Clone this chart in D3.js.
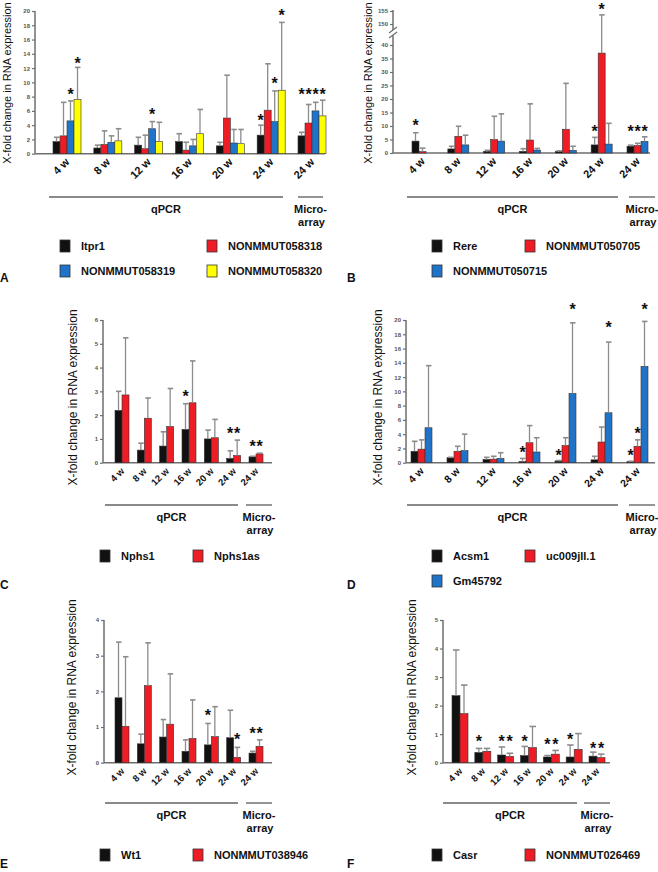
<!DOCTYPE html>
<html><head><meta charset="utf-8">
<script src="https://cdn.jsdelivr.net/npm/d3@7"></script>
<style>
body{margin:0;background:#fff}
svg{display:block}
text{font-family:"Liberation Sans",Arial,sans-serif}
</style>
</head><body><svg id="c" width="658" height="872"></svg>
<script>
// ---------- shared categories ----------
const groups = ["4 w","8 w","12 w","16 w","20 w","24 w","24 w"];
const colBlack = "#111111", colRed = "#ee1c24", colBlue = "#1f74c9", colYellow = "#ffff00";

// ---------- Panel A ----------
const namesA = ["Itpr1","NONMMUT058318","NONMMUT058319","NONMMUT058320"];
const itpr1      = [1.7,0.8,1.2,1.7,1.1,2.6,2.5];
const itpr1Err   = [2.3,1.2,2.3,2.8,1.6,4.0,3.0];
const n058318    = [2.5,1.3,0.7,0.5,5.0,6.1,4.3];
const n058318Err = [7.2,3.2,2.6,1.6,11.0,12.6,6.9];
const n058319    = [4.6,1.6,3.5,1.1,1.5,4.5,6.0];
const n058319Err = [7.4,2.5,4.5,2.0,3.4,8.8,7.2];
const n058320    = [7.6,1.8,1.7,2.8,1.4,8.9,5.3];
const n058320Err = [12.1,3.5,4.4,6.2,3.4,18.4,7.5];
const starsA = [[0,2,8.8],[0,3,13.2],[2,2,6.0],[5,0,5.2],[5,2,10.3],[5,3,19.8],[6,0,8.8],[6,1,8.8],[6,2,8.8],[6,3,8.8]];
const ticksA = [0,2,4,6,8,10,12,14,16,18,20];

// ---------- Panel B ----------
const namesB = ["Rere","NONMMUT050705","NONMMUT050715"];
const rere       = [4.4,1.5,0.6,0.6,0.6,3.0,2.5];
const rereErr    = [7.5,2.5,1.0,1.6,0.8,5.8,2.9];
const n050705    = [0.5,6.2,5.0,4.8,8.8,37.0,2.8];
const n050705Err = [1.8,9.9,13.6,18.2,25.8,153.5,3.6];
const n050715    = [0,3.0,4.4,1.1,1.0,3.3,4.3];
const n050715Err = [0,6.6,14.5,1.7,2.5,11.0,6.0];
const starsB = [[0,0,11.6],[5,0,9.4],[5,1,157],[6,0,9.4],[6,1,9.4],[6,2,9.4]];
const ticksBLow = [0,5,10,15,20,25,30,35,40];
const ticksBHigh = [150,155];

// ---------- Panel C ----------
const namesC = ["Nphs1","Nphs1as"];
const nphs1      = [2.2,0.53,0.7,1.4,1.0,0.18,0.25];
const nphs1Err   = [3.0,0.82,1.3,2.48,1.37,0.5,0.27];
const nphs1as    = [2.85,1.87,1.52,2.52,1.05,0.3,0.37];
const nphs1asErr = [5.25,2.72,3.12,4.28,1.82,0.95,0.4];
const starsC = [[3,0,2.95],[5,0,1.37],[5,1,1.37],[6,0,0.81],[6,1,0.81]];
const ticksC = [0,1,2,3,4,5,6];

// ---------- Panel D ----------
const namesD = ["Acsm1","uc009jll.1","Gm45792"];
const acsm1      = [1.6,0.7,0.45,0.15,0.25,0.4,0.15];
const acsm1Err   = [3.0,0.75,0.75,0.6,0.3,0.9,0.2];
const uc009jll   = [1.9,1.6,0.5,2.8,2.4,2.9,2.3];
const uc009jllErr= [3.2,2.3,0.9,5.2,3.5,5.0,3.2];
const gm45792    = [4.9,1.7,0.6,1.5,9.7,7.0,13.5];
const gm45792Err = [13.6,4.0,1.4,3.5,19.6,16.9,19.8];
const starsD = [[3,0,1.9],[4,0,1.55],[4,2,22],[5,2,19.4],[6,0,1.55],[6,1,4.6],[6,2,22]];
const ticksD = [0,2,4,6,8,10,12,14,16,18,20];

// ---------- Panel E ----------
const namesE = ["Wt1","NONMMUT038946"];
const wt1        = [1.82,0.53,0.72,0.32,0.5,0.7,0.27];
const wt1Err     = [3.38,0.8,1.21,0.64,1.1,1.47,0.32];
const n038946    = [1.02,2.16,1.08,0.68,0.73,0.15,0.46];
const n038946Err = [2.97,3.36,2.49,1.76,1.57,0.43,0.64];
const starsE = [[4,0,1.43],[5,1,0.76],[6,0,0.92],[6,1,0.92]];
const ticksE = [0,1,2,3,4];

// ---------- Panel F ----------
const namesF = ["Casr","NONMMUT026469"];
const casr       = [2.35,0.36,0.27,0.25,0.2,0.2,0.23];
const casrErr    = [3.95,0.5,0.55,0.57,0.25,0.62,0.37];
const n026469    = [1.72,0.4,0.22,0.53,0.3,0.47,0.18];
const n026469Err = [2.72,0.5,0.33,1.27,0.43,1.02,0.3];
const starsF = [[1,0,0.88],[2,0,0.88],[2,1,0.88],[3,0,0.88],[4,0,0.76],[4,1,0.76],[5,0,0.93],[6,0,0.62],[6,1,0.62]];
const ticksF = [0,1,2,3,4,5];

const yLabel = "X-fold change in RNA expression";

const svg = d3.select("#c");
const AX = "#6e6e6e", ERR = "#8c8c8c";

function drawPanel(cfg) {
  const g = svg.append("g");
  const n = groups.length;
  const Lr = cfg.band[1] - cfg.band[0];
  const step = (Lr - cfg.bw) / (n - 1);
  const x = d3.scaleBand().domain(d3.range(n)).range(cfg.band)
      .paddingInner(1 - cfg.bw / step).paddingOuter(0);
  const xs = d3.scaleBand().domain(d3.range(cfg.series.length)).range([0, x.bandwidth()]);
  const y = cfg.y;
  const bw = xs.bandwidth();

  // y axes
  cfg.yAxes.forEach(a => {
    const ax = g.append("g").attr("transform", `translate(${cfg.axisX[0]},0)`)
      .call(d3.axisLeft(a.scale).tickValues(a.ticks).tickFormat(d3.format("d"))
        .tickSize(3).tickPadding(2).tickSizeOuter(0));
    ax.select(".domain").remove();
    ax.selectAll(".tick line").attr("stroke", AX).attr("stroke-width", 1.2);
    ax.selectAll(".tick text").attr("font-size", 6).attr("font-weight", "bold").attr("fill", "#555")
      .style("font-family", '"Liberation Sans",Arial,sans-serif');
    g.append("line").attr("x1", cfg.axisX[0]).attr("x2", cfg.axisX[0])
      .attr("y1", a.line[0]).attr("y2", a.line[1]).attr("stroke", AX).attr("stroke-width", 1.5);
  });
  if (cfg.breakY) {
    [-2.5, 2.5].forEach(d => {
      g.append("line").attr("x1", cfg.axisX[0] - 4).attr("x2", cfg.axisX[0] + 4)
        .attr("y1", cfg.breakY + d + 3).attr("y2", cfg.breakY + d - 3)
        .attr("stroke", AX).attr("stroke-width", 1.2);
    });
  }
  // x axis
  const y0 = y(0);
  g.append("line").attr("x1", cfg.axisX[0]).attr("x2", cfg.axisX[1])
    .attr("y1", y0).attr("y2", y0).attr("stroke", AX).attr("stroke-width", 1.5);
  const xa = g.append("g").attr("transform", `translate(0,${y0})`)
    .call(d3.axisBottom(x).tickSize(0).tickFormat(i => groups[i]));
  xa.select(".domain").remove();
  xa.selectAll(".tick text")
    .attr("font-size", cfg.xFont).attr("font-weight", "bold").attr("fill", "#111")
    .style("font-family", '"Liberation Sans",Arial,sans-serif')
    .attr("text-anchor", "end")
    .attr("dy", 0).attr("y", 0)
    .attr("transform", `translate(3,${cfg.xLabDy}) rotate(-45)`);

  // bars
  cfg.series.forEach((s, si) => {
    g.append("g").selectAll("rect").data(s.values).join("rect")
      .attr("x", (d, i) => x(i) + xs(si))
      .attr("y", d => y(d))
      .attr("width", bw)
      .attr("height", d => y0 - y(d))
      .attr("fill", s.color)
      .attr("stroke", "#333").attr("stroke-width", 0.6);
  });
  // error bars
  cfg.series.forEach((s, si) => {
    const eg = g.append("g").attr("stroke", ERR).attr("stroke-width", 1.3);
    s.err.forEach((e, i) => {
      if (e <= s.values[i]) return;
      const cx = x(i) + xs(si) + bw / 2;
      eg.append("line").attr("x1", cx).attr("x2", cx).attr("y1", y(s.values[i])).attr("y2", y(e));
      eg.append("line").attr("x1", cx - bw / 2 + 1).attr("x2", cx + bw / 2 - 0.5).attr("y1", y(e)).attr("y2", y(e))
        .attr("stroke-width", 1.6);
    });
  });
  // stars
  g.append("g").selectAll("text").data(cfg.stars).join("text")
    .attr("x", d => x(d[0]) + xs(d[1]) + bw / 2)
    .attr("y", d => y(d[2]) + 9)
    .attr("text-anchor", "middle").attr("font-size", 16).attr("font-weight", "bold").attr("fill", "#111")
    .text("*");

  // y label
  g.append("text").attr("transform", `translate(${cfg.ylab[0]},${cfg.ylab[1]}) rotate(-90)`)
    .attr("text-anchor", "middle").attr("dominant-baseline", "central")
    .attr("font-size", cfg.ylabFont).attr("fill", "#111").text(yLabel);

  // qPCR / Micro-array
  const lg = g.append("g").attr("stroke", "#8a8a8a").attr("stroke-width", 1.8);
  lg.append("line").attr("x1", cfg.qLine[0]).attr("x2", cfg.qLine[1]).attr("y1", cfg.lineY).attr("y2", cfg.lineY);
  lg.append("line").attr("x1", cfg.mLine[0]).attr("x2", cfg.mLine[1]).attr("y1", cfg.lineY).attr("y2", cfg.lineY);
  const tf = t => t.attr("font-size", 11).attr("font-weight", "bold").attr("fill", "#111").attr("text-anchor", "middle");
  tf(g.append("text").attr("x", (cfg.qLine[0] + cfg.qLine[1]) / 2).attr("y", cfg.lineY + 16)).text("qPCR");
  tf(g.append("text").attr("x", (cfg.mLine[0] + cfg.mLine[1]) / 2).attr("y", cfg.lineY + 16)).text("Micro-");
  tf(g.append("text").attr("x", (cfg.mLine[0] + cfg.mLine[1]) / 2 + 1).attr("y", cfg.lineY + 29)).text("array");

  // legend
  cfg.series.forEach((s, si) => {
    const lx = cfg.legCols[si % 2], ly = cfg.legRows[Math.floor(si / 2)];
    g.append("rect").attr("x", lx).attr("y", ly - 6).attr("width", 10).attr("height", 12)
      .attr("fill", s.color).attr("stroke", "#333").attr("stroke-width", 0.8);
    g.append("text").attr("x", lx + 21).attr("y", ly + 4).attr("font-size", 11).attr("font-weight", "bold")
      .attr("fill", "#111").text(s.name);
  });
  // panel letter
  g.append("text").attr("x", cfg.letter[0]).attr("y", cfg.letter[1]).attr("font-size", 12)
    .attr("font-weight", "bold").attr("fill", "#111").text(cfg.letterText);
}

// Panel A
const yA = d3.scaleLinear().domain([0, 20]).range([153.7, 11]);
drawPanel({
  series: [
    {name: namesA[0], values: itpr1, err: itpr1Err, color: colBlack},
    {name: namesA[1], values: n058318, err: n058318Err, color: colRed},
    {name: namesA[2], values: n058319, err: n058319Err, color: colBlue},
    {name: namesA[3], values: n058320, err: n058320Err, color: colYellow}],
  y: yA, yAxes: [{scale: yA, ticks: ticksA, line: [yA(0), yA(20)]}],
  axisX: [35, 325], band: [53, 326], bw: 28, xFont: 11, xLabDy: 9,
  stars: starsA, ylab: [7, 83], ylabFont: 11, qLine: [49, 283], mLine: [298, 323], lineY: 197,
  legCols: [60, 207], legRows: [246, 271], letter: [0, 282], letterText: "A"
});

// Panel B (broken axis)
const yBLow = d3.scaleLinear().domain([0, 40]).range([153, 45]);
const yBHigh = d3.scaleLinear().domain([150, 155]).range([24, 11]);
const yB = v => v > 100 ? yBHigh(v) : yBLow(v);
drawPanel({
  series: [
    {name: namesB[0], values: rere, err: rereErr, color: colBlack},
    {name: namesB[1], values: n050705, err: n050705Err, color: colRed},
    {name: namesB[2], values: n050715, err: n050715Err, color: colBlue}],
  y: yB, yAxes: [{scale: yBLow, ticks: ticksBLow, line: [153, 35]}, {scale: yBHigh, ticks: ticksBHigh, line: [30, 10]}],
  breakY: 32.5,
  axisX: [393, 650], band: [412, 648], bw: 21, xFont: 11, xLabDy: 9,
  stars: starsB, ylab: [368, 83], ylabFont: 11, qLine: [407, 618], mLine: [629, 655], lineY: 197,
  legCols: [432, 525], legRows: [246, 271], letter: [347, 282], letterText: "B"
});

// Panel C
const yC = d3.scaleLinear().domain([0, 6]).range([462.7, 320]);
drawPanel({
  series: [
    {name: namesC[0], values: nphs1, err: nphs1Err, color: colBlack},
    {name: namesC[1], values: nphs1as, err: nphs1asErr, color: colRed}],
  y: yC, yAxes: [{scale: yC, ticks: ticksC, line: [yC(0), yC(6)]}],
  axisX: [103, 272], band: [115, 263], bw: 14, xFont: 9.5, xLabDy: 9,
  stars: starsC, ylab: [73, 397.5], ylabFont: 12, qLine: [105, 238], mLine: [246, 272], lineY: 505,
  legCols: [100, 193], legRows: [556], letter: [0, 589], letterText: "C"
});

// Panel D
const yD = d3.scaleLinear().domain([0, 20]).range([462.7, 320]);
drawPanel({
  series: [
    {name: namesD[0], values: acsm1, err: acsm1Err, color: colBlack},
    {name: namesD[1], values: uc009jll, err: uc009jllErr, color: colRed},
    {name: namesD[2], values: gm45792, err: gm45792Err, color: colBlue}],
  y: yD, yAxes: [{scale: yD, ticks: ticksD, line: [yD(0), yD(20)]}],
  axisX: [406, 655], band: [411, 648], bw: 21, xFont: 10.5, xLabDy: 9,
  stars: starsD, ylab: [378, 397.5], ylabFont: 12, qLine: [407, 618], mLine: [629, 655], lineY: 505,
  legCols: [432, 525], legRows: [556, 581], letter: [347, 589], letterText: "D"
});

// Panel E
const yE = d3.scaleLinear().domain([0, 4]).range([762.7, 620]);
drawPanel({
  series: [
    {name: namesE[0], values: wt1, err: wt1Err, color: colBlack},
    {name: namesE[1], values: n038946, err: n038946Err, color: colRed}],
  y: yE, yAxes: [{scale: yE, ticks: ticksE, line: [yE(0), yE(4)]}],
  axisX: [104, 272], band: [115, 263], bw: 14, xFont: 9.5, xLabDy: 9,
  stars: starsE, ylab: [72, 687.5], ylabFont: 12, qLine: [105, 238], mLine: [246, 272], lineY: 803,
  legCols: [100, 193], legRows: [855], letter: [0, 868], letterText: "E"
});

// Panel F
const yF = d3.scaleLinear().domain([0, 5]).range([762.7, 620]);
drawPanel({
  series: [
    {name: namesF[0], values: casr, err: casrErr, color: colBlack},
    {name: namesF[1], values: n026469, err: n026469Err, color: colRed}],
  y: yF, yAxes: [{scale: yF, ticks: ticksF, line: [yF(0), yF(5)]}],
  axisX: [443, 610], band: [452, 605], bw: 16, xFont: 9.5, xLabDy: 9,
  stars: starsF, ylab: [412, 687.5], ylabFont: 12, qLine: [443, 577], mLine: [584, 610], lineY: 803,
  legCols: [432, 525], legRows: [855], letter: [347, 868], letterText: "F"
});
</script>
</body></html>
